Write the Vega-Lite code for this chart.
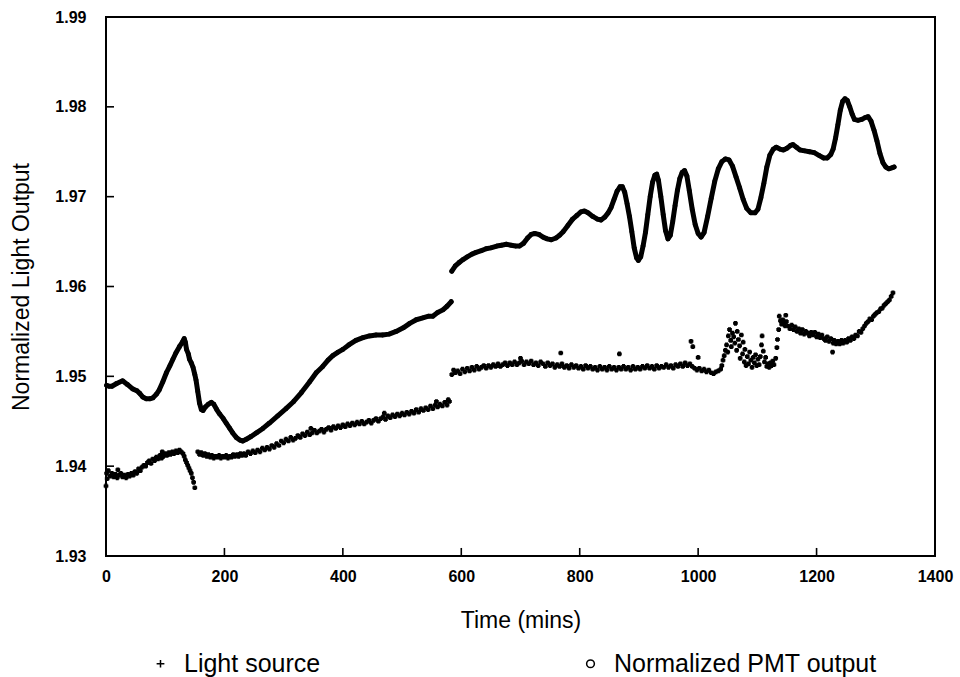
{
  "$schema": "https://vega.github.io/schema/vega-lite/v6.json",
  "width": 829,
  "height": 539,
  "autosize": {"type": "none"},
  "padding": {"left": 106, "top": 17, "right": 25, "bottom": 121},
  "background": "white",
  "config": {
    "font": "Liberation Sans",
    "view": {"stroke": "black", "strokeWidth": 2},
    "axis": {
      "grid": false,
      "domain": false,
      "ticks": false,
      "labelColor": "black",
      "labelFont": "Liberation Sans",
      "labelFontSize": 16,
      "labelFontWeight": "bold",
      "labelOverlap": false,
      "titleColor": "black",
      "titleFont": "Liberation Sans",
      "titleFontSize": 23,
      "titleFontWeight": "normal"
    }
  },
  "datasets": {
    "pmt": [
      {"t":1,"v":1.9490,"seg":1},{"t":5,"v":1.9489,"seg":1},{"t":10,"v":1.9489,"seg":1},{"t":18,"v":1.9492,"seg":1},{"t":28,"v":1.9495,"seg":1},{"t":36,"v":1.9491,"seg":1},{"t":45,"v":1.9486,"seg":1},{"t":52,"v":1.9484,"seg":1},{"t":57,"v":1.9481,"seg":1},{"t":62,"v":1.9477,"seg":1},{"t":68,"v":1.9475,"seg":1},{"t":74,"v":1.9475,"seg":1},{"t":79,"v":1.9476,"seg":1},{"t":85,"v":1.9480,"seg":1},{"t":90,"v":1.9485,"seg":1},{"t":96,"v":1.9494,"seg":1},{"t":102,"v":1.9504,"seg":1},{"t":108,"v":1.9512,"seg":1},{"t":113,"v":1.9519,"seg":1},{"t":118,"v":1.9526,"seg":1},{"t":124,"v":1.9533,"seg":1},{"t":129,"v":1.9538,"seg":1},{"t":132,"v":1.9542,"seg":1},{"t":134,"v":1.9538,"seg":1},{"t":136,"v":1.9530,"seg":1},{"t":139,"v":1.9525,"seg":1},{"t":141,"v":1.9519,"seg":1},{"t":144,"v":1.9515,"seg":1},{"t":147,"v":1.9510,"seg":1},{"t":150,"v":1.9502,"seg":1},{"t":152,"v":1.9496,"seg":1},{"t":155,"v":1.9483,"seg":1},{"t":158,"v":1.9470,"seg":1},{"t":161,"v":1.9463,"seg":1},{"t":164,"v":1.9462,"seg":1},{"t":168,"v":1.9466,"seg":1},{"t":173,"v":1.9469,"seg":1},{"t":178,"v":1.9471,"seg":1},{"t":182,"v":1.9469,"seg":1},{"t":187,"v":1.9463,"seg":1},{"t":192,"v":1.9458,"seg":1},{"t":198,"v":1.9453,"seg":1},{"t":203,"v":1.9448,"seg":1},{"t":209,"v":1.9442,"seg":1},{"t":214,"v":1.9437,"seg":1},{"t":220,"v":1.9432,"seg":1},{"t":226,"v":1.9429,"seg":1},{"t":231,"v":1.9428,"seg":1},{"t":237,"v":1.9430,"seg":1},{"t":245,"v":1.9433,"seg":1},{"t":254,"v":1.9437,"seg":1},{"t":265,"v":1.9442,"seg":1},{"t":276,"v":1.9448,"seg":1},{"t":290,"v":1.9456,"seg":1},{"t":304,"v":1.9464,"seg":1},{"t":317,"v":1.9472,"seg":1},{"t":330,"v":1.9482,"seg":1},{"t":344,"v":1.9494,"seg":1},{"t":355,"v":1.9504,"seg":1},{"t":366,"v":1.9511,"seg":1},{"t":375,"v":1.9518,"seg":1},{"t":383,"v":1.9523,"seg":1},{"t":392,"v":1.9527,"seg":1},{"t":400,"v":1.9530,"seg":1},{"t":410,"v":1.9535,"seg":1},{"t":422,"v":1.9540,"seg":1},{"t":434,"v":1.9543,"seg":1},{"t":445,"v":1.9545,"seg":1},{"t":456,"v":1.9546,"seg":1},{"t":467,"v":1.9546,"seg":1},{"t":478,"v":1.9547,"seg":1},{"t":490,"v":1.9550,"seg":1},{"t":502,"v":1.9554,"seg":1},{"t":513,"v":1.9559,"seg":1},{"t":524,"v":1.9563,"seg":1},{"t":535,"v":1.9565,"seg":1},{"t":545,"v":1.9567,"seg":1},{"t":552,"v":1.9567,"seg":1},{"t":560,"v":1.9571,"seg":1},{"t":569,"v":1.9574,"seg":1},{"t":576,"v":1.9578,"seg":1},{"t":583,"v":1.9583,"seg":1},
      {"t":584,"v":1.9617,"seg":2},{"t":590,"v":1.9623,"seg":2},{"t":597,"v":1.9627,"seg":2},{"t":603,"v":1.9630,"seg":2},{"t":610,"v":1.9633,"seg":2},{"t":618,"v":1.9636,"seg":2},{"t":625,"v":1.9638,"seg":2},{"t":634,"v":1.9640,"seg":2},{"t":642,"v":1.9642,"seg":2},{"t":650,"v":1.9643,"seg":2},{"t":660,"v":1.9645,"seg":2},{"t":668,"v":1.9646,"seg":2},{"t":676,"v":1.9647,"seg":2},{"t":684,"v":1.9646,"seg":2},{"t":692,"v":1.9645,"seg":2},{"t":698,"v":1.9645,"seg":2},{"t":705,"v":1.9648,"seg":2},{"t":712,"v":1.9654,"seg":2},{"t":718,"v":1.9658,"seg":2},{"t":724,"v":1.9659,"seg":2},{"t":731,"v":1.9658,"seg":2},{"t":738,"v":1.9655,"seg":2},{"t":745,"v":1.9653,"seg":2},{"t":752,"v":1.9652,"seg":2},{"t":760,"v":1.9654,"seg":2},{"t":766,"v":1.9657,"seg":2},{"t":772,"v":1.9661,"seg":2},{"t":780,"v":1.9668,"seg":2},{"t":788,"v":1.9675,"seg":2},{"t":795,"v":1.9679,"seg":2},{"t":802,"v":1.9683,"seg":2},{"t":808,"v":1.9684,"seg":2},{"t":814,"v":1.9682,"seg":2},{"t":822,"v":1.9678,"seg":2},{"t":830,"v":1.9675,"seg":2},{"t":836,"v":1.9674,"seg":2},{"t":842,"v":1.9677,"seg":2},{"t":848,"v":1.9682,"seg":2},{"t":853,"v":1.9688,"seg":2},{"t":858,"v":1.9697,"seg":2},{"t":863,"v":1.9706,"seg":2},{"t":868,"v":1.9711,"seg":2},{"t":872,"v":1.9711,"seg":2},{"t":876,"v":1.9705,"seg":2},{"t":880,"v":1.9692,"seg":2},{"t":884,"v":1.9678,"seg":2},{"t":888,"v":1.9661,"seg":2},{"t":892,"v":1.9643,"seg":2},{"t":896,"v":1.9632,"seg":2},{"t":899,"v":1.9629,"seg":2},{"t":903,"v":1.9633,"seg":2},{"t":907,"v":1.9645,"seg":2},{"t":911,"v":1.9660,"seg":2},{"t":915,"v":1.9680,"seg":2},{"t":919,"v":1.9700,"seg":2},{"t":923,"v":1.9716,"seg":2},{"t":927,"v":1.9724,"seg":2},{"t":930,"v":1.9725,"seg":2},{"t":933,"v":1.9718,"seg":2},{"t":937,"v":1.9700,"seg":2},{"t":941,"v":1.9680,"seg":2},{"t":945,"v":1.9662,"seg":2},{"t":949,"v":1.9653,"seg":2},{"t":953,"v":1.9657,"seg":2},{"t":957,"v":1.9672,"seg":2},{"t":961,"v":1.9690,"seg":2},{"t":965,"v":1.9707,"seg":2},{"t":969,"v":1.9720,"seg":2},{"t":973,"v":1.9727,"seg":2},{"t":977,"v":1.9729,"seg":2},{"t":981,"v":1.9723,"seg":2},{"t":985,"v":1.9707,"seg":2},{"t":990,"v":1.9686,"seg":2},{"t":995,"v":1.9669,"seg":2},{"t":1000,"v":1.9659,"seg":2},{"t":1005,"v":1.9655,"seg":2},{"t":1010,"v":1.9660,"seg":2},{"t":1016,"v":1.9678,"seg":2},{"t":1022,"v":1.9698,"seg":2},{"t":1028,"v":1.9717,"seg":2},{"t":1034,"v":1.9731,"seg":2},{"t":1040,"v":1.9739,"seg":2},{"t":1046,"v":1.9742,"seg":2},{"t":1052,"v":1.9741,"seg":2},{"t":1058,"v":1.9734,"seg":2},{"t":1064,"v":1.9722,"seg":2},{"t":1070,"v":1.9710,"seg":2},{"t":1076,"v":1.9697,"seg":2},{"t":1082,"v":1.9687,"seg":2},{"t":1089,"v":1.9682,"seg":2},{"t":1096,"v":1.9682,"seg":2},{"t":1101,"v":1.9686,"seg":2},{"t":1106,"v":1.9699,"seg":2},{"t":1111,"v":1.9715,"seg":2},{"t":1116,"v":1.9733,"seg":2},{"t":1121,"v":1.9746,"seg":2},{"t":1127,"v":1.9753,"seg":2},{"t":1132,"v":1.9755,"seg":2},{"t":1138,"v":1.9753,"seg":2},{"t":1144,"v":1.9752,"seg":2},{"t":1150,"v":1.9754,"seg":2},{"t":1156,"v":1.9757,"seg":2},{"t":1160,"v":1.9758,"seg":2},{"t":1166,"v":1.9755,"seg":2},{"t":1172,"v":1.9752,"seg":2},{"t":1180,"v":1.9751,"seg":2},{"t":1188,"v":1.9750,"seg":2},{"t":1196,"v":1.9749,"seg":2},{"t":1204,"v":1.9746,"seg":2},{"t":1212,"v":1.9743,"seg":2},{"t":1218,"v":1.9743,"seg":2},{"t":1224,"v":1.9747,"seg":2},{"t":1228,"v":1.9753,"seg":2},{"t":1232,"v":1.9765,"seg":2},{"t":1236,"v":1.9780,"seg":2},{"t":1240,"v":1.9796,"seg":2},{"t":1244,"v":1.9806,"seg":2},{"t":1248,"v":1.9809,"seg":2},{"t":1252,"v":1.9807,"seg":2},{"t":1256,"v":1.9800,"seg":2},{"t":1260,"v":1.9792,"seg":2},{"t":1264,"v":1.9786,"seg":2},{"t":1270,"v":1.9785,"seg":2},{"t":1276,"v":1.9786,"seg":2},{"t":1282,"v":1.9788,"seg":2},{"t":1287,"v":1.9789,"seg":2},{"t":1292,"v":1.9784,"seg":2},{"t":1297,"v":1.9774,"seg":2},{"t":1302,"v":1.9762,"seg":2},{"t":1307,"v":1.9748,"seg":2},{"t":1312,"v":1.9738,"seg":2},{"t":1317,"v":1.9733,"seg":2},{"t":1322,"v":1.9731,"seg":2},{"t":1327,"v":1.9732,"seg":2},{"t":1331,"v":1.9733,"seg":2}
    ],
    "light": [
      {"t":0,"v":1.9378},{"t":1,"v":1.9392},{"t":2,"v":1.9386},{"t":4,"v":1.9395},{"t":7,"v":1.9389},{"t":10,"v":1.9392},{"t":13,"v":1.9388},{"t":16,"v":1.9391},{"t":19,"v":1.9387},{"t":20,"v":1.9396},{"t":22,"v":1.9390},{"t":25,"v":1.9392},{"t":28,"v":1.9388},{"t":31,"v":1.9390},{"t":34,"v":1.9387},{"t":37,"v":1.9391},{"t":40,"v":1.9389},{"t":43,"v":1.9392},{"t":46,"v":1.9390},{"t":49,"v":1.9394},{"t":52,"v":1.9392},{"t":55,"v":1.9397},{"t":58,"v":1.9395},{"t":61,"v":1.9399},{"t":64,"v":1.9401},{"t":67,"v":1.9400},{"t":70,"v":1.9404},{"t":73,"v":1.9406},{"t":76,"v":1.9403},{"t":79,"v":1.9408},{"t":82,"v":1.9406},{"t":85,"v":1.9410},{"t":88,"v":1.9408},{"t":91,"v":1.9412},{"t":94,"v":1.9409},{"t":95,"v":1.9416},{"t":97,"v":1.9411},{"t":100,"v":1.9414},{"t":103,"v":1.9412},{"t":106,"v":1.9415},{"t":109,"v":1.9413},{"t":112,"v":1.9416},{"t":115,"v":1.9414},{"t":118,"v":1.9417},{"t":121,"v":1.9415},{"t":124,"v":1.9418},{"t":127,"v":1.9416},{"t":130,"v":1.9414},{"t":132,"v":1.9411},{"t":134,"v":1.9407},{"t":136,"v":1.9404},{"t":138,"v":1.9401},{"t":140,"v":1.9398},{"t":142,"v":1.9395},{"t":144,"v":1.9392},{"t":146,"v":1.9387},{"t":148,"v":1.9382},{"t":150,"v":1.9376},
      {"t":155,"v":1.9416},{"t":158,"v":1.9413},{"t":161,"v":1.9415},{"t":164,"v":1.9412},{"t":167,"v":1.9414},{"t":170,"v":1.9411},{"t":173,"v":1.9413},{"t":176,"v":1.9410},{"t":179,"v":1.9412},{"t":182,"v":1.9409},{"t":185,"v":1.9411},{"t":188,"v":1.9410},{"t":191,"v":1.9412},{"t":194,"v":1.9409},{"t":197,"v":1.9411},{"t":200,"v":1.9410},{"t":203,"v":1.9412},{"t":206,"v":1.9409},{"t":209,"v":1.9411},{"t":212,"v":1.9410},{"t":215,"v":1.9413},{"t":218,"v":1.9411},{"t":221,"v":1.9413},{"t":224,"v":1.9411},{"t":227,"v":1.9414},{"t":230,"v":1.9412},{"t":233,"v":1.9414},{"t":236,"v":1.9412},{"t":240,"v":1.9416},{"t":244,"v":1.9414},{"t":248,"v":1.9417},{"t":252,"v":1.9415},{"t":256,"v":1.9418},{"t":260,"v":1.9416},{"t":264,"v":1.9420},{"t":268,"v":1.9418},{"t":272,"v":1.9421},{"t":276,"v":1.9419},{"t":280,"v":1.9423},{"t":284,"v":1.9421},{"t":288,"v":1.9425},{"t":292,"v":1.9423},{"t":296,"v":1.9428},{"t":300,"v":1.9426},{"t":304,"v":1.9430},{"t":308,"v":1.9428},{"t":312,"v":1.9432},{"t":316,"v":1.9429},{"t":320,"v":1.9431},{"t":324,"v":1.9434},{"t":328,"v":1.9432},{"t":332,"v":1.9436},{"t":336,"v":1.9434},{"t":340,"v":1.9438},{"t":344,"v":1.9435},{"t":346,"v":1.9442},{"t":348,"v":1.9437},{"t":352,"v":1.9440},{"t":356,"v":1.9437},{"t":360,"v":1.9439},{"t":364,"v":1.9441},{"t":368,"v":1.9438},{"t":372,"v":1.9441},{"t":376,"v":1.9443},{"t":380,"v":1.9440},{"t":384,"v":1.9444},{"t":388,"v":1.9442},{"t":392,"v":1.9445},{"t":396,"v":1.9443},{"t":400,"v":1.9446},{"t":404,"v":1.9444},{"t":408,"v":1.9447},{"t":412,"v":1.9445},{"t":416,"v":1.9448},{"t":420,"v":1.9446},{"t":424,"v":1.9449},{"t":428,"v":1.9447},{"t":432,"v":1.9450},{"t":436,"v":1.9447},{"t":440,"v":1.9449},{"t":444,"v":1.9451},{"t":448,"v":1.9448},{"t":452,"v":1.9451},{"t":456,"v":1.9453},{"t":460,"v":1.9450},{"t":464,"v":1.9453},{"t":468,"v":1.9455},{"t":470,"v":1.9459},{"t":472,"v":1.9452},{"t":476,"v":1.9456},{"t":480,"v":1.9454},{"t":484,"v":1.9457},{"t":488,"v":1.9455},{"t":492,"v":1.9458},{"t":496,"v":1.9456},{"t":500,"v":1.9459},{"t":504,"v":1.9457},{"t":508,"v":1.9460},{"t":512,"v":1.9458},{"t":516,"v":1.9461},{"t":520,"v":1.9459},{"t":524,"v":1.9463},{"t":528,"v":1.9460},{"t":532,"v":1.9464},{"t":536,"v":1.9462},{"t":540,"v":1.9465},{"t":544,"v":1.9463},{"t":548,"v":1.9467},{"t":552,"v":1.9464},{"t":556,"v":1.9468},{"t":558,"v":1.9472},{"t":560,"v":1.9466},{"t":564,"v":1.9469},{"t":568,"v":1.9467},{"t":572,"v":1.9471},{"t":576,"v":1.9468},{"t":578,"v":1.9474},{"t":580,"v":1.9472},
      {"t":584,"v":1.9502},{"t":587,"v":1.9507},{"t":590,"v":1.9504},{"t":594,"v":1.9506},{"t":598,"v":1.9503},{"t":602,"v":1.9508},{"t":606,"v":1.9505},{"t":610,"v":1.9509},{"t":614,"v":1.9506},{"t":618,"v":1.9510},{"t":622,"v":1.9507},{"t":626,"v":1.9511},{"t":630,"v":1.9508},{"t":634,"v":1.9510},{"t":638,"v":1.9512},{"t":642,"v":1.9509},{"t":646,"v":1.9512},{"t":650,"v":1.9510},{"t":654,"v":1.9513},{"t":658,"v":1.9511},{"t":662,"v":1.9514},{"t":666,"v":1.9511},{"t":670,"v":1.9513},{"t":674,"v":1.9515},{"t":678,"v":1.9512},{"t":682,"v":1.9515},{"t":686,"v":1.9513},{"t":690,"v":1.9516},{"t":694,"v":1.9513},{"t":698,"v":1.9515},{"t":700,"v":1.9520},{"t":702,"v":1.9517},{"t":706,"v":1.9513},{"t":710,"v":1.9516},{"t":714,"v":1.9514},{"t":718,"v":1.9517},{"t":722,"v":1.9513},{"t":726,"v":1.9515},{"t":730,"v":1.9512},{"t":734,"v":1.9516},{"t":738,"v":1.9514},{"t":742,"v":1.9511},{"t":746,"v":1.9515},{"t":750,"v":1.9512},{"t":754,"v":1.9514},{"t":758,"v":1.9510},{"t":762,"v":1.9513},{"t":766,"v":1.9511},{"t":768,"v":1.9526},{"t":770,"v":1.9514},{"t":774,"v":1.9510},{"t":778,"v":1.9512},{"t":782,"v":1.9509},{"t":786,"v":1.9513},{"t":790,"v":1.9510},{"t":794,"v":1.9512},{"t":798,"v":1.9509},{"t":802,"v":1.9511},{"t":806,"v":1.9508},{"t":810,"v":1.9512},{"t":814,"v":1.9509},{"t":818,"v":1.9511},{"t":822,"v":1.9508},{"t":826,"v":1.9510},{"t":830,"v":1.9507},{"t":834,"v":1.9511},{"t":838,"v":1.9508},{"t":842,"v":1.9510},{"t":846,"v":1.9507},{"t":850,"v":1.9511},{"t":854,"v":1.9508},{"t":858,"v":1.9510},{"t":862,"v":1.9507},{"t":866,"v":1.9510},{"t":867,"v":1.9525},{"t":870,"v":1.9508},{"t":874,"v":1.9511},{"t":878,"v":1.9508},{"t":882,"v":1.9510},{"t":886,"v":1.9507},{"t":890,"v":1.9511},{"t":894,"v":1.9508},{"t":898,"v":1.9510},{"t":902,"v":1.9508},{"t":906,"v":1.9511},{"t":910,"v":1.9509},{"t":914,"v":1.9512},{"t":918,"v":1.9509},{"t":922,"v":1.9511},{"t":926,"v":1.9508},{"t":930,"v":1.9512},{"t":934,"v":1.9509},{"t":938,"v":1.9511},{"t":942,"v":1.9510},{"t":946,"v":1.9513},{"t":950,"v":1.9510},{"t":954,"v":1.9512},{"t":958,"v":1.9509},{"t":962,"v":1.9513},{"t":966,"v":1.9511},{"t":970,"v":1.9514},{"t":974,"v":1.9511},{"t":978,"v":1.9515},{"t":982,"v":1.9512},{"t":986,"v":1.9514},{"t":988,"v":1.9539},{"t":990,"v":1.9511},{"t":991,"v":1.9533},{"t":994,"v":1.9509},{"t":998,"v":1.9507},{"t":1000,"v":1.9521},{"t":1002,"v":1.9509},{"t":1006,"v":1.9506},{"t":1010,"v":1.9508},{"t":1014,"v":1.9505},{"t":1018,"v":1.9507},{"t":1022,"v":1.9504},{"t":1026,"v":1.9503},{"t":1030,"v":1.9505},{"t":1034,"v":1.9506},{"t":1038,"v":1.9508},
      {"t":1040,"v":1.9512},{"t":1042,"v":1.9518},{"t":1044,"v":1.9523},{"t":1046,"v":1.9529},{"t":1048,"v":1.9535},{"t":1050,"v":1.9527},{"t":1051,"v":1.9545},{"t":1053,"v":1.9552},{"t":1055,"v":1.9540},{"t":1056,"v":1.9533},{"t":1058,"v":1.9548},{"t":1060,"v":1.9544},{"t":1062,"v":1.9537},{"t":1063,"v":1.9559},{"t":1065,"v":1.9529},{"t":1066,"v":1.9550},{"t":1068,"v":1.9541},{"t":1070,"v":1.9534},{"t":1071,"v":1.9520},{"t":1073,"v":1.9546},{"t":1075,"v":1.9525},{"t":1076,"v":1.9538},{"t":1078,"v":1.9516},{"t":1079,"v":1.9530},{"t":1081,"v":1.9512},{"t":1083,"v":1.9522},{"t":1085,"v":1.9514},{"t":1087,"v":1.9527},{"t":1089,"v":1.9518},{"t":1091,"v":1.9510},{"t":1093,"v":1.9521},{"t":1095,"v":1.9515},{"t":1097,"v":1.9524},{"t":1099,"v":1.9512},{"t":1101,"v":1.9519},{"t":1103,"v":1.9513},{"t":1105,"v":1.9522},{"t":1107,"v":1.9535},{"t":1108,"v":1.9545},{"t":1110,"v":1.9528},{"t":1112,"v":1.9516},{"t":1114,"v":1.9521},{"t":1116,"v":1.9511},{"t":1118,"v":1.9514},{"t":1120,"v":1.9510},{"t":1122,"v":1.9515},{"t":1124,"v":1.9512},{"t":1126,"v":1.9517},{"t":1128,"v":1.9513},{"t":1131,"v":1.9520},{"t":1133,"v":1.9532},{"t":1134,"v":1.9541},{"t":1136,"v":1.9552},{"t":1137,"v":1.9567},{"t":1139,"v":1.9562},{"t":1141,"v":1.9558},{"t":1143,"v":1.9563},{"t":1145,"v":1.9559},{"t":1147,"v":1.9556},{"t":1148,"v":1.9568},{"t":1149,"v":1.9561},
      {"t":1152,"v":1.9556},{"t":1155,"v":1.9553},{"t":1158,"v":1.9557},{"t":1161,"v":1.9552},{"t":1164,"v":1.9555},{"t":1167,"v":1.9550},{"t":1170,"v":1.9553},{"t":1173,"v":1.9548},{"t":1176,"v":1.9552},{"t":1179,"v":1.9547},{"t":1182,"v":1.9550},{"t":1185,"v":1.9548},{"t":1188,"v":1.9545},{"t":1191,"v":1.9549},{"t":1194,"v":1.9546},{"t":1197,"v":1.9549},{"t":1200,"v":1.9544},{"t":1203,"v":1.9547},{"t":1206,"v":1.9543},{"t":1209,"v":1.9546},{"t":1212,"v":1.9542},{"t":1215,"v":1.9540},{"t":1218,"v":1.9544},{"t":1221,"v":1.9539},{"t":1224,"v":1.9542},{"t":1227,"v":1.9527},{"t":1228,"v":1.9537},{"t":1230,"v":1.9540},{"t":1233,"v":1.9536},{"t":1236,"v":1.9539},{"t":1239,"v":1.9536},{"t":1242,"v":1.9540},{"t":1245,"v":1.9537},{"t":1248,"v":1.9540},{"t":1251,"v":1.9538},{"t":1254,"v":1.9542},{"t":1257,"v":1.9540},{"t":1260,"v":1.9544},{"t":1263,"v":1.9542},{"t":1266,"v":1.9546},{"t":1269,"v":1.9545},{"t":1272,"v":1.9550},{"t":1275,"v":1.9549},{"t":1278,"v":1.9553},{"t":1281,"v":1.9556},{"t":1284,"v":1.9559},{"t":1287,"v":1.9561},{"t":1290,"v":1.9564},{"t":1293,"v":1.9563},{"t":1296,"v":1.9567},{"t":1299,"v":1.9569},{"t":1302,"v":1.9571},{"t":1305,"v":1.9572},{"t":1308,"v":1.9575},{"t":1311,"v":1.9576},{"t":1314,"v":1.9579},{"t":1317,"v":1.9581},{"t":1320,"v":1.9583},{"t":1323,"v":1.9585},{"t":1326,"v":1.9589},{"t":1329,"v":1.9593}
    ],
    "xticks": [{"t":200},{"t":400},{"t":600},{"t":800},{"t":1000},{"t":1200}],
    "yticks": [{"v":1.94},{"v":1.95},{"v":1.96},{"v":1.97},{"v":1.98}]
  },
  "layer": [
    {
      "data": {"name": "pmt"},
      "mark": {"type": "line", "color": "black", "strokeWidth": 5, "strokeCap": "round", "strokeJoin": "round"},
      "encoding": {
        "x": {"field": "t", "type": "quantitative", "scale": {"domain": [0, 1400], "nice": false, "zero": false}, "axis": {"title": "Time (mins)", "values": [0, 200, 400, 600, 800, 1000, 1200, 1400], "format": "d", "labelFlush": false, "labelPadding": 12, "titlePadding": 25}},
        "y": {"field": "v", "type": "quantitative", "scale": {"domain": [1.93, 1.99], "nice": false, "zero": false}, "axis": {"title": "Normalized Light Output", "values": [1.93, 1.94, 1.95, 1.96, 1.97, 1.98, 1.99], "format": ".2f", "labelPadding": 20, "titlePadding": 21}},
        "detail": {"field": "seg", "type": "nominal"}
      }
    },
    {
      "data": {"name": "xticks"},
      "mark": {"type": "tick", "orient": "vertical", "color": "black", "size": 8, "thickness": 1.6, "opacity": 1},
      "encoding": {
        "x": {"field": "t", "type": "quantitative", "scale": {"domain": [0, 1400], "nice": false, "zero": false}, "axis": {"title": "Time (mins)", "values": [0, 200, 400, 600, 800, 1000, 1200, 1400], "format": "d", "labelFlush": false, "labelPadding": 12, "titlePadding": 25}},
        "y": {"datum": 1.93045, "type": "quantitative", "scale": {"domain": [1.93, 1.99], "nice": false, "zero": false}, "axis": {"title": "Normalized Light Output", "values": [1.93, 1.94, 1.95, 1.96, 1.97, 1.98, 1.99], "format": ".2f", "labelPadding": 20, "titlePadding": 21}}
      }
    },
    {
      "data": {"name": "yticks"},
      "mark": {"type": "tick", "orient": "horizontal", "color": "black", "size": 8, "thickness": 1.6, "opacity": 1},
      "encoding": {
        "x": {"datum": 6.8, "type": "quantitative", "scale": {"domain": [0, 1400], "nice": false, "zero": false}, "axis": {"title": "Time (mins)", "values": [0, 200, 400, 600, 800, 1000, 1200, 1400], "format": "d", "labelFlush": false, "labelPadding": 12, "titlePadding": 25}},
        "y": {"field": "v", "type": "quantitative", "scale": {"domain": [1.93, 1.99], "nice": false, "zero": false}, "axis": {"title": "Normalized Light Output", "values": [1.93, 1.94, 1.95, 1.96, 1.97, 1.98, 1.99], "format": ".2f", "labelPadding": 20, "titlePadding": 21}}
      }
    },
    {
      "data": {"name": "pmt"},
      "mark": {"type": "point", "filled": false, "color": "black", "strokeWidth": 2, "size": 8, "opacity": 1},
      "encoding": {
        "x": {"field": "t", "type": "quantitative", "scale": {"domain": [0, 1400], "nice": false, "zero": false}, "axis": {"title": "Time (mins)", "values": [0, 200, 400, 600, 800, 1000, 1200, 1400], "format": "d", "labelFlush": false, "labelPadding": 12, "titlePadding": 25}},
        "y": {"field": "v", "type": "quantitative", "scale": {"domain": [1.93, 1.99], "nice": false, "zero": false}, "axis": {"title": "Normalized Light Output", "values": [1.93, 1.94, 1.95, 1.96, 1.97, 1.98, 1.99], "format": ".2f", "labelPadding": 20, "titlePadding": 21}},
        "shape": {
          "datum": "Normalized PMT output",
          "scale": {"domain": ["Light source", "Normalized PMT output"], "range": ["M-1,0H1M0,-1V1", "circle"]},
          "legend": {
            "title": null,
            "orient": "none",
            "legendX": 42,
            "legendY": 634,
            "direction": "horizontal",
            "labelFont": "Liberation Sans",
            "labelFontSize": 25,
            "labelColor": "black",
            "labelLimit": 400,
            "labelOffset": 11,
            "columnPadding": 257,
            "symbolSize": 60,
            "symbolStrokeWidth": 1.5,
            "symbolStrokeColor": "black",
            "symbolFillColor": "transparent"
          }
        }
      }
    },
    {
      "data": {"name": "light"},
      "mark": {"type": "point", "filled": false, "color": "black", "strokeWidth": 3, "size": 22, "opacity": 1},
      "encoding": {
        "x": {"field": "t", "type": "quantitative", "scale": {"domain": [0, 1400], "nice": false, "zero": false}, "axis": {"title": "Time (mins)", "values": [0, 200, 400, 600, 800, 1000, 1200, 1400], "format": "d", "labelFlush": false, "labelPadding": 12, "titlePadding": 25}},
        "y": {"field": "v", "type": "quantitative", "scale": {"domain": [1.93, 1.99], "nice": false, "zero": false}, "axis": {"title": "Normalized Light Output", "values": [1.93, 1.94, 1.95, 1.96, 1.97, 1.98, 1.99], "format": ".2f", "labelPadding": 20, "titlePadding": 21}},
        "shape": {
          "datum": "Light source",
          "scale": {"domain": ["Light source", "Normalized PMT output"], "range": ["M-1,0H1M0,-1V1", "circle"]}
        }
      }
    }
  ]
}
